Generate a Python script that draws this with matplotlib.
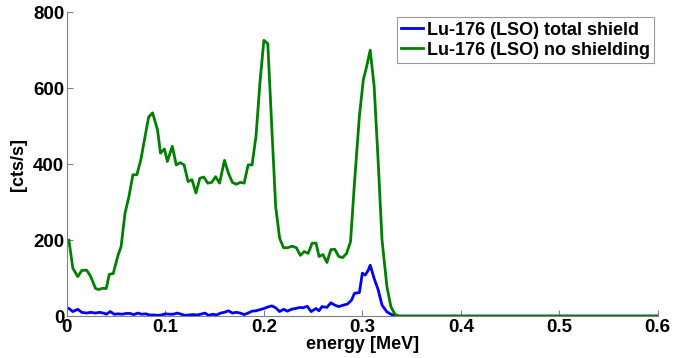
import matplotlib
matplotlib.use("Agg")
import matplotlib.pyplot as plt
from matplotlib.ticker import FuncFormatter

plt.rcParams['font.family'] = ['Liberation Sans', 'DejaVu Sans']
plt.rcParams['font.weight'] = 'bold'

green_x = [0.002, 0.006, 0.011, 0.015, 0.020, 0.024, 0.029, 0.032, 0.036, 0.040, 0.043, 0.047,
           0.052, 0.055, 0.059, 0.063, 0.067, 0.071, 0.075, 0.080, 0.083, 0.087, 0.092, 0.095,
           0.099, 0.102, 0.107, 0.111, 0.115, 0.119, 0.123, 0.127, 0.131, 0.135, 0.139, 0.143,
           0.147, 0.151, 0.155, 0.160, 0.164, 0.168, 0.172, 0.176, 0.180, 0.184, 0.188, 0.192,
           0.196, 0.200, 0.204, 0.208, 0.212, 0.216, 0.220, 0.224, 0.229, 0.233, 0.237, 0.241,
           0.245, 0.249, 0.253, 0.256, 0.260, 0.264, 0.268, 0.272, 0.276, 0.280, 0.284, 0.288,
           0.292, 0.297, 0.301, 0.304, 0.308, 0.312, 0.316, 0.320, 0.325, 0.329, 0.333, 0.337, 0.6]
green_y = [200, 126, 104, 120, 121, 105, 73, 70, 73, 73, 110, 112,
           161, 183, 271, 315, 372, 372, 411, 482, 524, 535, 490, 429,
           440, 407, 447, 398, 404, 398, 354, 359, 324, 363, 366, 350,
           352, 367, 350, 410, 376, 352, 347, 352, 350, 398, 398, 473,
           614, 726, 717, 499, 288, 205, 180, 180, 184, 180, 160, 170,
           165, 192, 192, 157, 162, 141, 175, 176, 157, 154, 165, 196,
           350, 526, 622, 653, 700, 605, 411, 200, 77, 25, 5, 0, 0]

blue_x = [0.002, 0.006, 0.011, 0.015, 0.020, 0.024, 0.029, 0.033, 0.037, 0.040, 0.044, 0.048,
          0.052, 0.056, 0.060, 0.064, 0.068, 0.072, 0.076, 0.080, 0.084, 0.088, 0.092, 0.096,
          0.100, 0.104, 0.108, 0.112, 0.116, 0.120, 0.124, 0.128, 0.132, 0.136, 0.140, 0.144,
          0.148, 0.152, 0.156, 0.160, 0.164, 0.168, 0.172, 0.176, 0.180, 0.184, 0.188, 0.192,
          0.196, 0.200, 0.204, 0.208, 0.212, 0.216, 0.220, 0.224, 0.228, 0.232, 0.237, 0.240,
          0.244, 0.248, 0.253, 0.256, 0.259, 0.264, 0.268, 0.272, 0.276, 0.281, 0.285, 0.289,
          0.292, 0.297, 0.300, 0.303, 0.306, 0.308, 0.312, 0.316, 0.320, 0.325, 0.329, 0.334, 0.6]
blue_y = [20, 12, 18, 10, 8, 10, 8, 10, 8, 5, 12, 5,
          6, 5, 7, 7, 4, 8, 5, 6, 3, 3, 2, 3,
          6, 5, 5, 8, 5, 2, 3, 4, 3, 5, 8, 2,
          5, 3, 8, 10, 14, 8, 10, 8, 4, 8, 13, 14,
          17, 20, 24, 27, 22, 12, 18, 13, 18, 20, 23, 22,
          26, 12, 20, 14, 25, 23, 35, 29, 25, 29, 32, 42,
          60, 62, 113, 108, 121, 134, 99, 70, 29, 11, 5, 0, 0]

labels = ['Lu-176 (LSO) total shield', 'Lu-176 (LSO) no shielding']
x_ticks = [0, 0.1, 0.2, 0.3, 0.4, 0.5, 0.6]
y_ticks = [0, 200, 400, 600, 800]

fig = plt.figure(figsize=(6.76, 3.58), dpi=100)
ax = fig.add_axes([0.099, 0.117, 0.874, 0.849])
ax.plot(blue_x, blue_y, color='#0000ff', lw=2.0, label=labels[0])
ax.plot(green_x, green_y, color='#008000', lw=2.0, label=labels[1])
ax.set_xlim(0, 0.6)
ax.set_ylim(0, 800)
ax.set_xticks(x_ticks)
ax.set_yticks(y_ticks)
ax.xaxis.set_major_formatter(FuncFormatter(lambda v, p: '0' if v == 0 else f'{v:g}'))
for s in ['top', 'right']:
    ax.spines[s].set_visible(False)
for s in ['left', 'bottom']:
    ax.spines[s].set_color('#808080')
    ax.spines[s].set_linewidth(0.8)
ax.tick_params(direction='in', length=4, color='#808080', labelsize=13.5, pad=2)
for t in ax.get_xticklabels() + ax.get_yticklabels():
    t.set_fontweight('bold')
ax.set_xlabel('energy [MeV]', fontsize=13, fontweight='bold', labelpad=0)
ax.set_ylabel('[cts/s]', fontsize=13, fontweight='bold', labelpad=4)
leg = ax.legend(loc='upper right', bbox_to_anchor=(1.0, 0.995), fontsize=13, frameon=True,
                fancybox=False, handlelength=1.2, handletextpad=0.2, borderpad=0.25,
                labelspacing=0.15, borderaxespad=0.2)
leg.get_frame().set_edgecolor('#808080')
leg.get_frame().set_linewidth(0.8)
for t in leg.get_texts():
    t.set_fontweight('bold')
fig.savefig('out.png', dpi=100)
